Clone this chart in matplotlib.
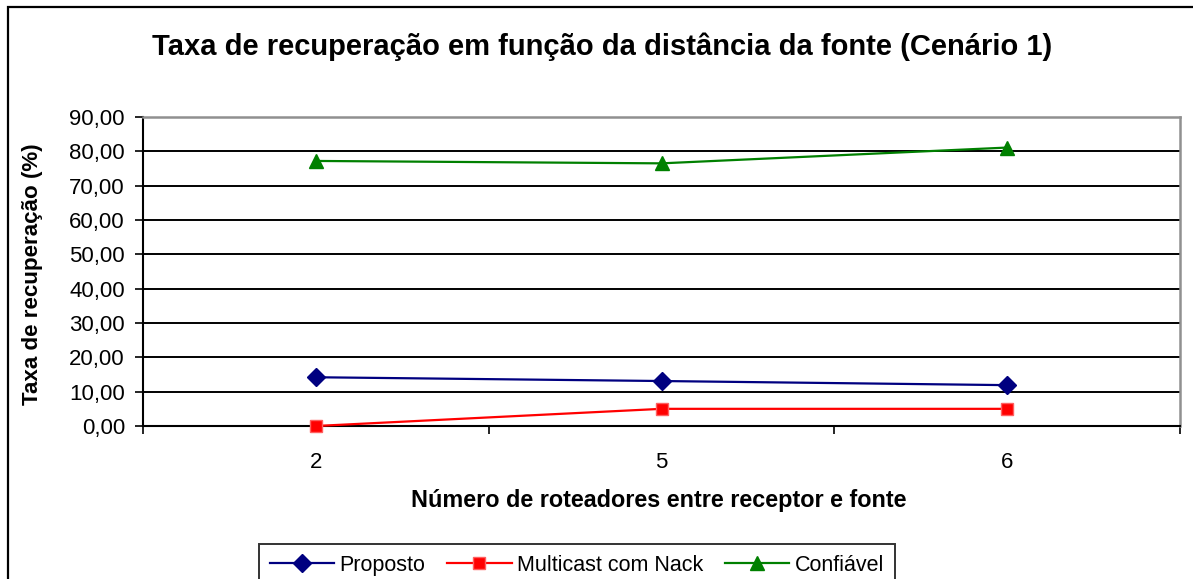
import matplotlib
matplotlib.use("Agg")
import matplotlib.pyplot as plt
from matplotlib.patches import Rectangle
from matplotlib.ticker import FixedLocator

plt.rcParams['font.family'] = ['Liberation Sans', 'DejaVu Sans']

categories = ['2', '5', '6']
proposto = [14.2, 13.1, 11.9]
multicast = [0.0, 5.0, 5.0]
confiavel = [77.2, 76.5, 81.1]
yticks = [0, 10, 20, 30, 40, 50, 60, 70, 80, 90]

W, H = 1193, 579
fig = plt.figure(figsize=(W / 100, H / 100), dpi=100)
fig.patch.set_facecolor('white')

# outer chart frame (right/bottom edges lie outside the image)
fig.patches.append(Rectangle((8 / W, -0.05), 1.2, 1 - 7 / H + 0.05, transform=fig.transFigure,
                             fill=False, edgecolor='black', linewidth=1.6, zorder=0))

l, r, t, b = 143, 1180, 117, 426
ax = fig.add_axes([l / W, 1 - b / H, (r - l) / W, (b - t) / H])

x = list(range(len(categories)))
ax.plot(x, proposto, color='#000080', lw=1.6, marker='D', ms=9,
        mfc='#000080', mec='#000080', label='Proposto', zorder=3, clip_on=False)
ax.plot(x, multicast, color='#FF0000', lw=1.6, marker='s', ms=8,
        mfc='#FF0000', mec='#FF6060', mew=1.0, label='Multicast com Nack', zorder=3, clip_on=False)
ax.plot(x, confiavel, color='#008000', lw=1.6, marker='^', ms=10.5,
        mfc='#008000', mec='#008000', label='Confiável', zorder=3, clip_on=False)

ax.set_xlim(-0.5, len(categories) - 0.5)
ax.set_ylim(0, 90)
ax.set_yticks(yticks)
ax.set_yticklabels([f"{v:.2f}".replace('.', ',') for v in yticks], fontsize=16)
ax.yaxis.grid(True, color='black', lw=1.4)
ax.set_axisbelow(True)

ax.set_xticks(x)
ax.set_xticklabels(categories, fontsize=16)
ax.xaxis.set_minor_locator(FixedLocator([i - 0.5 for i in range(len(categories) + 1)]))
ax.tick_params(axis='x', which='major', length=0, pad=19)
ax.tick_params(axis='x', which='minor', length=6, width=1.2, direction='out', color='black')
ax.tick_params(axis='y', length=6, width=1.2, direction='out', pad=7, color='black')

for s in ['top', 'right']:
    ax.spines[s].set_color('#909090')
    ax.spines[s].set_linewidth(1.8)
for s in ['left', 'bottom']:
    ax.spines[s].set_color('black')
    ax.spines[s].set_linewidth(1.5)

fig.text(602 / W, 1 - 47 / H, 'Taxa de recuperação em função da distância da fonte (Cenário 1)',
         ha='center', va='center', fontsize=21, fontweight='bold')
fig.text(659 / W, 1 - 500 / H, 'Número de roteadores entre receptor e fonte',
         ha='center', va='center', fontsize=16.8, fontweight='bold')
fig.text(33 / W, 1 - 274 / H, 'Taxa de recuperação (%)',
         ha='center', va='center', fontsize=16.1, fontweight='bold', rotation=90)

leg = fig.legend(loc='upper center', bbox_to_anchor=(577 / W, 1 - 544 / H), ncol=3,
                 fontsize=15.5, frameon=True, fancybox=False, edgecolor='black',
                 handlelength=3.0, columnspacing=1.0, handletextpad=0.25, borderpad=0.5,
                 borderaxespad=0)
leg.get_frame().set_linewidth(1.4)

fig.savefig('out.png', dpi=100)
